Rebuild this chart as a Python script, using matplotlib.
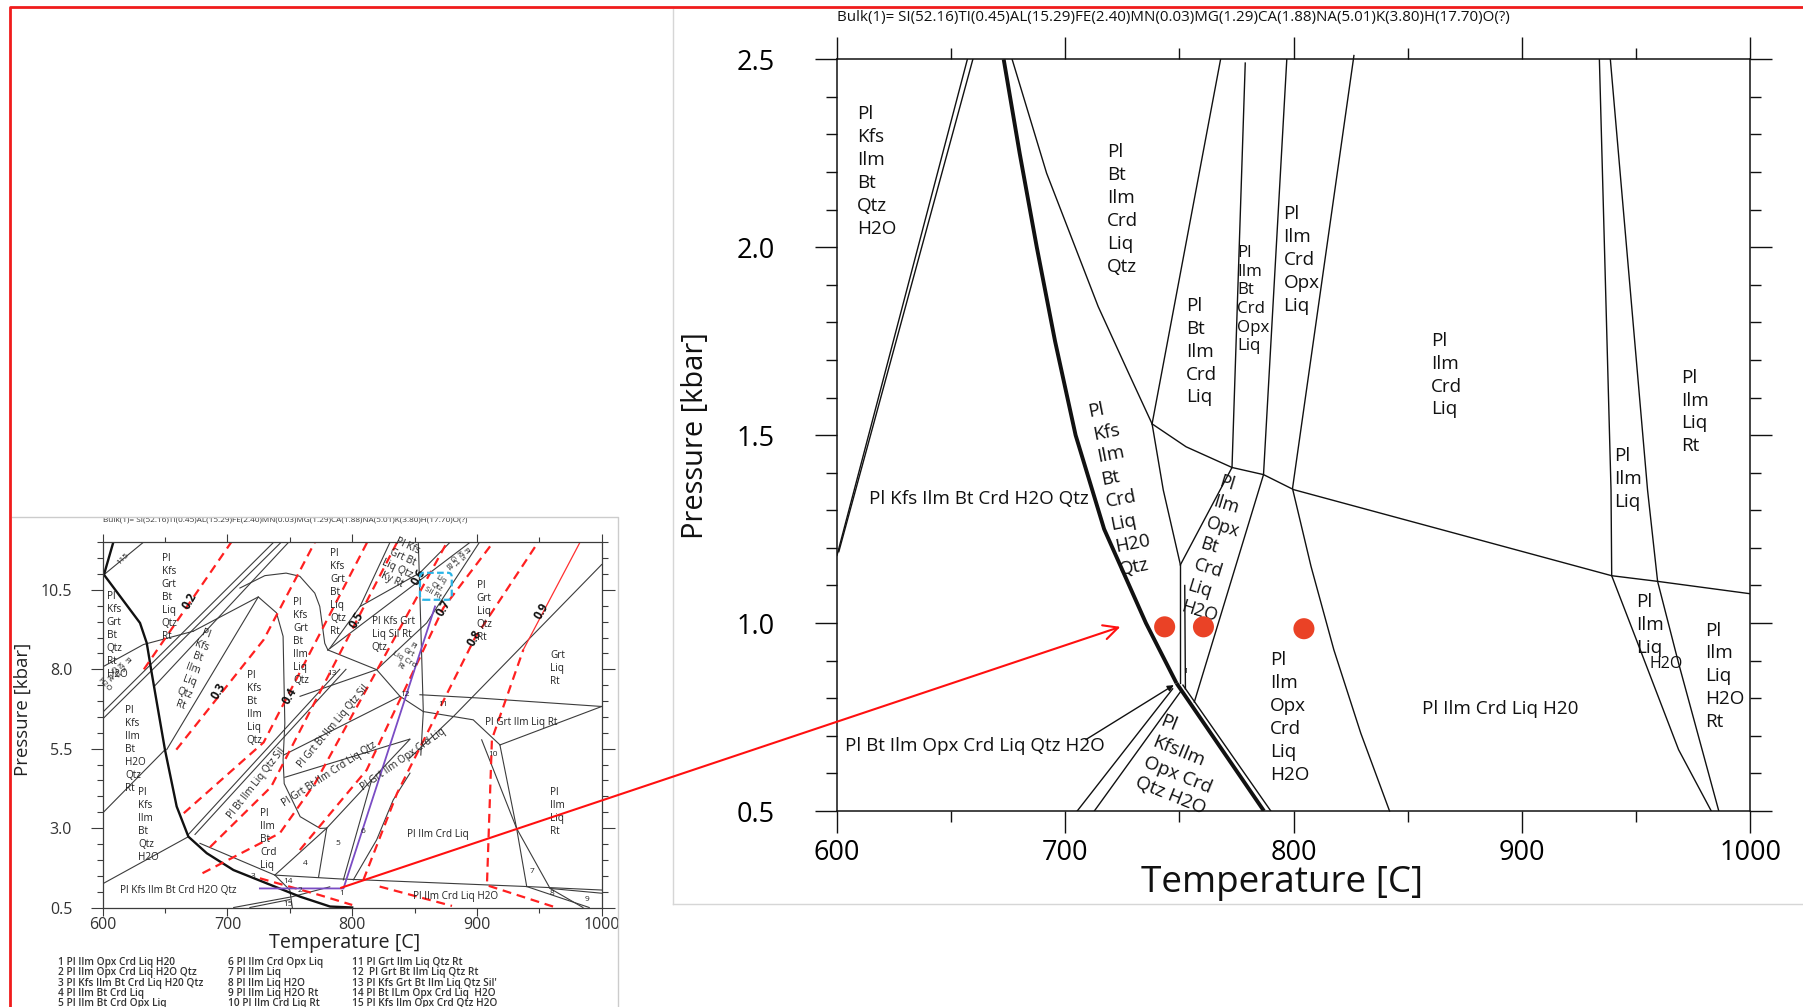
import matplotlib
matplotlib.use("Agg")
import matplotlib.pyplot as plt
from matplotlib import font_manager
from matplotlib.patches import ConnectionPatch, FancyBboxPatch
from matplotlib.lines import Line2D
from matplotlib.ticker import MultipleLocator, FixedLocator, FormatStrFormatter

plt.rcParams['font.family'] = ['Open Sans', 'DejaVu Sans']

def narrow_family():
    for name in ['Liberation Sans Narrow']:
        try:
            font_manager.findfont(font_manager.FontProperties(family=name), fallback_to_default=False)
            return [name, 'DejaVu Sans']
        except Exception:
            pass
    return ['Open Sans', 'DejaVu Sans']

NARROW = narrow_family()

BULK = "Bulk(1)= SI(52.16)TI(0.45)AL(15.29)FE(2.40)MN(0.03)MG(1.29)CA(1.88)NA(5.01)K(3.80)H(17.70)O(?)"

# ------------------------------------------------------------------ main panel data
main_xticks = [600, 700, 800, 900, 1000]
main_yticks = [0.5, 1.0, 1.5, 2.0, 2.5]

m_left1_T = [657.1, 600.0];            m_left1_P = [2.5, 1.18]
m_left2_T = [659.5, 600.8];            m_left2_P = [2.5, 1.19]
m_sol_up_T = [673.0, 680.0, 687.5, 695.5, 704.5, 717.0, 735.3, 748.7]
m_sol_up_P = [2.5, 2.25, 2.0, 1.75, 1.5, 1.25, 1.0, 0.84]
m_sol_lo_T = [748.7, 787.0];           m_sol_lo_P = [0.84, 0.5]
m_sol_lo2_T = [751.5, 790.0];          m_sol_lo2_P = [0.835, 0.5]
m_curve_T = [676.7, 691.8, 714.4, 727.8, 738.0]
m_curve_P = [2.5, 2.197, 1.842, 1.664, 1.53]
m_d_T = [768.0, 738.0, 742.9, 750.4];  m_d_P = [2.5, 1.53, 1.354, 1.155]
m_e_T = [738.0, 752.9, 773.0, 786.8, 800.0, 870.0, 939.3, 959.4, 1000.0]
m_e_P = [1.53, 1.469, 1.414, 1.395, 1.355, 1.24, 1.126, 1.111, 1.078]
m_f_T = [778.8, 773.0];                m_f_P = [2.49, 1.414]
m_g_T = [797.0, 786.8, 756.5];         m_g_P = [2.5, 1.395, 0.79]
m_h_T = [773.0, 750.4];                m_h_P = [1.414, 1.155]
m_v1_T = [750.4, 750.4];               m_v1_P = [1.155, 0.84]
m_v2_T = [752.3, 752.6];               m_v2_P = [1.10, 0.825]
m_i_T = [826.4, 799.5, 807.6, 817.6, 829.4, 842.0]
m_i_P = [2.51, 1.358, 1.151, 0.929, 0.707, 0.5]
m_j_T = [933.9, 939.0, 939.3, 951.8, 968.6, 982.9]
m_j_P = [2.5, 1.354, 1.126, 0.929, 0.663, 0.5]
m_k_T = [938.7, 955.0, 959.4, 968.6, 986.2]
m_k_P = [2.5, 1.354, 1.111, 0.893, 0.5]
m_l_T = [705.2, 747.0];                m_l_P = [0.5, 0.825]
m_m_T = [712.7, 750.5];                m_m_P = [0.5, 0.818]
m_leader_T = [709.0, 747.5];           m_leader_P = [0.69, 0.835]

dots_T = [743.5, 760.5, 804.5]
dots_P = [0.99, 0.99, 0.985]

m_lab_text = ["Pl\nKfs\nIlm\nBt\nQtz\nH2O", "Pl\nBt\nIlm\nCrd\nLiq\nQtz", "Pl\nBt\nIlm\nCrd\nLiq",
              "Pl\nIlm\nCrd\nOpx\nLiq", "Pl\nIlm\nCrd\nLiq", "Pl\nIlm\nLiq\nRt", "Pl\nIlm\nLiq",
              "Pl\nIlm\nOpx\nCrd\nLiq\nH2O", "Pl\nIlm\nLiq\nH2O\nRt", "Pl\nIlm\nLiq"]
m_lab_T = [608.9, 718.3, 752.9, 795.6, 860.3, 969.6, 940.2, 789.6, 980.4, 949.8]
m_lab_P = [2.378, 2.276, 1.868, 2.112, 1.775, 1.677, 1.469, 0.925, 1.004, 1.08]

m_small_text = "Pl\nIlm\nBt\nCrd\nOpx\nLiq"
m_small_T, m_small_P = 775.3, 2.006

m_rot_text = ["Pl\nKfs\nIlm\nBt\nCrd\nLiq\nH20\nQtz", "Pl\nIlm\nOpx\nBt\nCrd\nLiq\nH2O",
              "Pl\nKfsIlm\nOpx Crd\nQtz H2O"]
m_rot_T = [724.5, 767.0, 751.5]
m_rot_P = [1.36, 1.197, 0.622]
m_rot_ang = [11, -17, -22]

m_line_text = ["Pl Kfs Ilm Bt Crd H2O Qtz", "Pl Bt Ilm Opx Crd Liq Qtz H2O", "Pl Ilm Crd Liq H20"]
m_line_T = [613.8, 603.5, 856.2]
m_line_P = [1.329, 0.673, 0.771]

# ------------------------------------------------------------------ inset data
in_xticks = [600, 700, 800, 900, 1000]
in_yticks = [0.5, 3.0, 5.5, 8.0, 10.5]

i_sol_T = [608.5, 601.0, 629.9, 635.3, 639.3, 649.9, 659.3, 668.7, 683.4, 704.8, 731.5, 758.3, 782.3, 800.0]
i_sol_P = [12.0, 10.98, 9.46, 8.83, 7.88, 5.47, 3.68, 2.73, 2.21, 1.68, 1.26, 0.84, 0.53, 0.5]

i_lines = [
    ([601.0, 632.6], [10.98, 12.0]),
    ([600.6, 632.6, 672.6], [8.09, 8.78, 9.2]),
    ([600.6, 737.0], [6.67, 12.0]),
    ([600.6, 743.0], [6.46, 12.0]),
    ([641.0, 749.0], [7.45, 12.0]),
    ([710.0, 730.0, 747.0, 758.0, 770.0, 774.0, 778.0, 780.5], [10.56, 10.95, 11.03, 10.93, 10.4, 9.98, 8.82, 8.61]),
    ([651.3, 724.7, 739.3, 744.6, 746.0, 744.6, 745.5, 758.3, 774.3, 779.6], [5.47, 10.28, 9.78, 9.04, 6.3, 5.15, 4.4, 3.36, 2.99, 3.0]),
    ([672.6, 724.7], [9.2, 10.28]),
    ([600.6, 650.0], [3.5, 5.47]),
    ([600.6, 668.7], [1.26, 2.73]),
    ([668.7, 790.0], [2.8, 8.0]),
    ([674.0, 795.0], [2.8, 8.0]),
    ([678.0, 738.0, 790.0, 940.0, 1000.0], [2.52, 1.52, 1.4, 1.16, 1.05]),
    ([738.0, 779.6, 815.6, 846.3], [1.52, 3.0, 4.52, 5.8]),
    ([779.6, 773.0], [3.0, 1.45]),
    ([815.6, 792.9], [4.52, 1.37]),
    ([846.3, 832.9, 819.6, 800.9], [4.73, 3.89, 2.63, 1.37]),
    ([903.8, 931.8, 958.6, 985.0], [5.78, 2.99, 1.1, 0.5]),
    ([918.5, 931.8, 939.9], [5.6, 2.99, 1.16]),
    ([939.9, 990.0], [1.16, 0.5]),
    ([958.6, 1000.0], [1.1, 0.95]),
    ([854.3, 900.0, 1000.0], [7.2, 7.1, 6.83]),
    ([857.0, 897.0, 918.5], [6.67, 6.41, 5.62]),
    ([918.5, 1000.0], [5.62, 6.83]),
    ([780.5, 894.5], [8.61, 12.0]),
    ([902.0, 859.7, 819.6], [12.0, 9.46, 7.99]),
    ([1000.0, 881.0, 846.0], [11.3, 6.51, 5.2]),
    ([853.0, 857.0, 855.0], [12.0, 6.67, 5.3]),
    ([830.3, 806.3, 782.2], [12.0, 9.98, 8.67]),
    ([806.3, 854.3, 878.4], [9.98, 11.04, 12.0]),
    ([780.5, 819.6, 838.3, 857.0], [8.61, 7.99, 7.15, 6.67]),
    ([758.2, 819.6], [7.15, 7.99]),
    ([745.0, 838.3], [5.3, 7.15]),
    ([746.0, 846.0], [4.6, 5.8]),
    ([705.0, 752.0, 782.0], [0.5, 0.84, 1.15]),
    ([738.0, 750.0, 752.0], [1.52, 1.05, 0.5]),
    ([718.0, 750.0], [0.5, 0.75]),
]

i_iso = [
    ([633.0, 703.0], [8.0, 12.0]),
    ([659.0, 729.0, 770.0], [5.47, 8.93, 12.0]),
    ([665.0, 729.0, 812.0], [3.47, 5.7, 12.0]),
    ([686.0, 735.0, 836.0], [2.4, 4.3, 12.0]),
    ([680.0, 742.0, 770.0, 876.0], [1.58, 2.84, 4.4, 12.0]),
    ([758.0, 811.6, 873.0, 913.0], [2.31, 4.83, 9.93, 12.0]),
    ([809.0, 836.0, 898.4, 949.0], [1.37, 4.1, 8.99, 12.0]),
    ([961.0, 908.0, 912.0, 937.2], [0.53, 1.2, 5.8, 8.62]),
    ([726.0, 774.0, 800.0], [1.42, 0.89, 0.58]),
    ([822.0, 880.0], [1.16, 0.55]),
]
i_iso_solid_T = [937.2, 982.6]
i_iso_solid_P = [8.62, 12.0]

i_iso_lab = ["0.2", "0.3", "0.4", "0.5", "0.6", "0.7", "0.8", "0.9"]
i_iso_lab_T = [670.0, 692.7, 750.0, 803.5, 853.0, 873.0, 898.4, 951.9]
i_iso_lab_P = [10.14, 7.3, 7.15, 9.56, 10.9, 9.93, 8.99, 9.83]

purple_T = [726.0, 793.0, 866.4]
purple_P = [1.1, 1.1, 9.98]

box_T = [854.3, 879.8]
box_P = [10.19, 11.04]

i_lab_text = ["Pl\nKfs\nGrt\nBt\nLiq\nQtz\nRt", "Pl\nKfs\nGrt\nBt\nQtz\nRt\nH2O",
              "Pl\nKfs\nIlm\nBt\nH2O\nQtz\nRt", "Pl\nKfs\nBt\nIlm\nLiq\nQtz",
              "Pl\nKfs\nGrt\nBt\nIlm\nLiq\nQtz", "Pl\nKfs\nIlm\nBt\nQtz\nH2O", "Pl\nIlm\nBt\nCrd\nLiq",
              "Pl\nIlm\nLiq\nRt", "Pl\nKfs\nGrt\nBt\nLiq\nQtz\nRt", "Pl Kfs Grt\nLiq Sil Rt\nQtz",
              "Pl\nGrt\nLiq\nQtz\nRt", "Grt\nLiq\nRt"]
i_lab_T = [647.3, 603.2, 617.9, 715.4, 752.8, 628.5, 726.1, 958.6, 782.2, 815.6, 899.8, 958.6]
i_lab_P = [11.67, 10.46, 6.88, 7.99, 10.28, 4.31, 3.63, 4.31, 11.82, 9.67, 10.82, 8.62]

i_line_text = ["Pl Kfs Ilm Bt Crd H2O Qtz", "Pl Ilm Crd Liq", "Pl Ilm Crd Liq H2O", "Pl Grt Ilm Liq Rt"]
i_line_T = [614.0, 843.7, 849.0, 906.5]
i_line_P = [1.03, 2.79, 0.84, 6.31]

i_rot_text = ["Pl\nKfs\nQtz\nRt\nH2O", "Pl\nKfs\nBt\nIlm\nLiq\nQtz\nRt", "Pl Grt Bt Ilm Crd Liq Qtz",
              "Pl Grt Ilm Opx Crd Liq", "Pl Bt Ilm Liq Qtz Sil", "Pl Grt Bt Ilm Liq Qtz Sil",
              "Pl Kfs\nGrt Bt\nLiq Qtz\nKy Rt", "Pl\nGrt\nLiq Crd\nRt", "Pl\nKfs\nGrt\nBt",
              "Liq\nQtz\nSil Rt", "115"]
i_rot_T = [609.9, 672.6, 782.0, 841.0, 723.4, 784.8, 838.3, 843.7, 883.8, 867.7, 616.5]
i_rot_P = [7.88, 7.99, 4.68, 5.15, 4.42, 6.2, 11.35, 8.41, 11.46, 10.6, 11.46]
i_rot_ang = [-45, -20, 33, 35, 52, 50, -25, -30, -50, -30, 45]

i_num_text = ["1", "2", "3", "4", "5", "6", "7", "8", "9", "10", "11", "12", "13", "14", "15"]
i_num_T = [791.6, 758.2, 720.7, 762.2, 788.1, 808.9, 943.9, 960.0, 988.0, 913.1, 873.0, 842.3, 783.6, 748.9, 748.8]
i_num_P = [0.93, 1.05, 1.47, 1.89, 2.5, 2.89, 1.63, 0.93, 0.76, 5.31, 6.88, 7.2, 7.88, 1.31, 0.58]

legend_col1 = ["1 Pl Ilm Opx Crd Liq H20", "2 Pl Ilm Opx Crd Liq H2O Qtz", "3 Pl Kfs Ilm Bt Crd Liq H20 Qtz",
               "4 Pl Ilm Bt Crd Liq", "5 Pl Ilm Bt Crd Opx Liq"]
legend_col2 = ["6 Pl Ilm Crd Opx Liq", "7 Pl Ilm Liq", "8 Pl Ilm Liq H2O", "9 Pl Ilm Liq H2O Rt",
               "10 Pl Ilm Crd Liq Rt"]
legend_col3 = ["11 Pl Grt Ilm Liq Qtz Rt", "12  Pl Grt Bt Ilm Liq Qtz Rt", "13 Pl Kfs Grt Bt Ilm Liq Qtz Sil'",
               "14 Pl Bt ILm Opx Crd Liq  H2O", "15 Pl Kfs Ilm Opx Crd Qtz H2O"]

arrow_from = (791.0, 1.12)   # inset data
arrow_to = (724.1, 0.99)     # main data

# ------------------------------------------------------------------ figure
W, H = 1803, 1007
fig = plt.figure(figsize=(W / 100, H / 100), dpi=100)
fig.patch.set_facecolor('white')

def fit(t, target, vertical=False):
    r = fig.canvas.get_renderer()
    for _ in range(3):
        bb = t.get_window_extent(renderer=r)
        cur = bb.height if vertical else bb.width
        if cur > 0:
            t.set_fontsize(t.get_fontsize() * target / cur)

# frames
fig.add_artist(Line2D([673 / W, 673 / W], [1 - 9 / H, 1 - 904 / H], color='#d6d6d6', lw=1.0))
fig.add_artist(Line2D([673 / W, 1.0], [1 - 904 / H, 1 - 904 / H], color='#d6d6d6', lw=1.0))
fig.add_artist(Line2D([11.5 / W, 617.5 / W, 617.5 / W], [1 - 517 / H, 1 - 517 / H, 0], color='#cccccc', lw=1.0))
fig.add_artist(Line2D([10 / W, 10 / W, 1.0], [0, 1 - 7 / H, 1 - 7 / H], color='#f01c1c', lw=2.0))

BLK = '#111111'

# ---------------- main axes
ax = fig.add_axes([837 / W, 1 - 811 / H, 913.3 / W, 751.7 / H])
ax.set_xlim(600, 1000)
ax.set_ylim(0.5, 2.5)
ax.xaxis.set_major_locator(FixedLocator(main_xticks))
ax.yaxis.set_major_locator(FixedLocator(main_yticks))
ax.xaxis.set_minor_locator(MultipleLocator(50))
ax.yaxis.set_minor_locator(MultipleLocator(0.1))
ax.yaxis.set_major_formatter(FormatStrFormatter('%.1f'))
ax.tick_params(which='both', direction='out', top=True, right=True, width=1.0, color=BLK)
ax.tick_params(which='major', length=16, labelsize=19.5)
ax.tick_params(which='minor', length=8)
ax.tick_params(axis='x', which='major', pad=4)
ax.tick_params(axis='y', which='major', pad=29)
for s in ax.spines.values():
    s.set_linewidth(1.1)
    s.set_color(BLK)

thin_main = [(m_left1_T, m_left1_P), (m_left2_T, m_left2_P), (m_curve_T, m_curve_P), (m_d_T, m_d_P),
             (m_e_T, m_e_P), (m_f_T, m_f_P), (m_g_T, m_g_P), (m_h_T, m_h_P), (m_v1_T, m_v1_P),
             (m_v2_T, m_v2_P), (m_j_T, m_j_P), (m_k_T, m_k_P), (m_l_T, m_l_P), (m_m_T, m_m_P),
             (m_sol_lo2_T, m_sol_lo2_P)]
for T, P in thin_main:
    ax.plot(T, P, color=BLK, lw=1.0)
ax.plot(m_i_T, m_i_P, color=BLK, lw=1.0, clip_on=False)
ax.plot(m_sol_up_T, m_sol_up_P, color=BLK, lw=2.8, solid_capstyle='butt')
ax.plot(m_sol_lo_T, m_sol_lo_P, color=BLK, lw=2.8, solid_capstyle='butt')
ax.annotate('', xy=(m_leader_T[1], m_leader_P[1]), xytext=(m_leader_T[0], m_leader_P[0]),
            arrowprops=dict(arrowstyle='-|>', color=BLK, lw=1.0, mutation_scale=9, shrinkA=0, shrinkB=0))
ax.scatter(dots_T, dots_P, s=230, color='#ea4226', zorder=6, edgecolors='none')

LFS = 13.6
LS = 1.35
for t, T, P in zip(m_lab_text, m_lab_T, m_lab_P):
    ax.text(T, P, t, fontsize=LFS, ha='left', va='top', linespacing=LS, color=BLK)
ax.text(m_small_T, m_small_P, m_small_text, fontsize=12.2, ha='left', va='top', linespacing=1.22, color=BLK)
for i, (t, T, P, a) in enumerate(zip(m_rot_text, m_rot_T, m_rot_P, m_rot_ang)):
    fs = LFS if i != 1 else 12.8
    ax.text(T, P, t, fontsize=fs, ha='center', va='center', rotation=a, rotation_mode='anchor',
            multialignment='left', linespacing=LS if i == 0 else 1.28, color=BLK)
for t, T, P in zip(m_line_text, m_line_T, m_line_P):
    ax.text(T, P, t, fontsize=LFS, ha='left', va='center', color=BLK)
ax.text(956.0, 0.892, "H2O", fontsize=11.5, ha='left', va='center', color=BLK)
ax.text(752.9, 0.872, "1", fontsize=6, ha='center', va='center', color=BLK)

t_main_title = ax.text(0.0, 1.056, BULK, transform=ax.transAxes, ha='left', va='center', fontsize=10,
                       color=BLK, family=NARROW)
fit(t_main_title, 672)
t_xl = ax.text(0.4875, -0.096, "Temperature [C]", transform=ax.transAxes, ha='center', va='center', fontsize=26, color=BLK)
fit(t_xl, 282)
t_yl = ax.text(-0.1545, 0.5, "Pressure [kbar]", transform=ax.transAxes, ha='center', va='center',
               rotation=90, fontsize=22, color=BLK)
fit(t_yl, 207, vertical=True)

# ---------------- inset axes
GR = '#3c3c3c'
axi = fig.add_axes([102.7 / W, 1 - 907.5 / H, 499 / W, 365.2 / H])
axi.set_xlim(600, 1000)
axi.set_ylim(0.5, 12.0)
axi.xaxis.set_major_locator(FixedLocator(in_xticks))
axi.yaxis.set_major_locator(FixedLocator(in_yticks))
axi.xaxis.set_minor_locator(MultipleLocator(50))
axi.yaxis.set_minor_locator(MultipleLocator(0.5))
axi.yaxis.set_major_formatter(FormatStrFormatter('%.1f'))
axi.tick_params(which='both', direction='out', top=True, right=True, width=0.8, color=GR, labelcolor='#333333')
axi.tick_params(which='major', length=9, labelsize=11.5)
axi.tick_params(which='minor', length=4.5)
axi.tick_params(axis='x', which='major', length=6, pad=1)
axi.tick_params(axis='x', which='minor', length=3.5)
axi.tick_params(axis='y', which='major', pad=13)
for s in axi.spines.values():
    s.set_linewidth(0.9)
    s.set_color(GR)

for T, P in i_lines:
    axi.plot(T, P, color=GR, lw=0.8)
axi.plot(i_sol_T, i_sol_P, color=BLK, lw=1.7)
for T, P in i_iso:
    axi.plot(T, P, color='#ff2020', lw=1.6, dashes=(4, 2.6))
axi.plot(i_iso_solid_T, i_iso_solid_P, color='#ff3030', lw=0.9)
axi.plot(purple_T, purple_P, color='#7a4cc4', lw=1.3)
axi.add_patch(FancyBboxPatch((box_T[0], box_P[0]), box_T[1] - box_T[0], box_P[1] - box_P[0],
                             boxstyle='round,pad=0,rounding_size=3', mutation_aspect=0.045,
                             fill=False, ec='#29b4e6', lw=1.6, ls=(0, (3, 1.5)), zorder=5))
for t, T, P in zip(i_iso_lab, i_iso_lab_T, i_iso_lab_P):
    axi.text(T, P, t, fontsize=8.5, fontweight='bold', rotation=60, ha='center', va='center',
             rotation_mode='anchor', color=BLK)

IFS = 7.2
for t, T, P in zip(i_lab_text, i_lab_T, i_lab_P):
    axi.text(T, P, t, fontsize=IFS, ha='left', va='top', linespacing=1.25, color='#222222')
for t, T, P in zip(i_line_text, i_line_T, i_line_P):
    axi.text(T, P, t, fontsize=IFS, ha='left', va='center', color='#222222')
for t, T, P, a in zip(i_rot_text, i_rot_T, i_rot_P, i_rot_ang):
    small = ('\n' in t and len(t) < 20) or t == "115"
    axi.text(T, P, t, fontsize=5.8 if small else IFS, ha='center', va='center',
             rotation=a, rotation_mode='anchor', linespacing=1.2, color='#222222')
for t, T, P in zip(i_num_text, i_num_T, i_num_P):
    axi.text(T, P, t, fontsize=6, ha='center', va='center', color='#222222')

t_it = axi.text(0.0, 1.061, BULK, transform=axi.transAxes, ha='left', va='center', fontsize=5,
                color='#333333', family=NARROW)
fit(t_it, 365)
t_ixl = axi.text(0.4856, -0.097, "Temperature [C]", transform=axi.transAxes, ha='center', va='center',
                 fontsize=14, color='#222222')
fit(t_ixl, 152)
t_iyl = axi.text(-0.16, 0.542, "Pressure [kbar]", transform=axi.transAxes, ha='center', va='center',
                 rotation=90, fontsize=13, color='#222222')
fit(t_iyl, 133, vertical=True)

# legend below inset
col_x = [57.5, 227.7, 351.9]
row_y = [962.6, 972.9, 983.3, 993.6, 1003.4]
probe = fig.text(col_x[0] / W, 1 - row_y[0] / H, legend_col1[0], fontsize=7, ha='left', va='center',
                 color='#333333', fontweight='semibold')
fit(probe, 117)
lfs = probe.get_fontsize()
probe.remove()
for cx, col in zip(col_x, [legend_col1, legend_col2, legend_col3]):
    for ry, t in zip(row_y, col):
        fig.text(cx / W, 1 - ry / H, t, fontsize=lfs, ha='left', va='center', color='#333333',
                 fontweight='semibold')

# red arrow inset -> main
con = ConnectionPatch(xyA=arrow_from, coordsA=axi.transData, xyB=arrow_to, coordsB=ax.transData,
                      arrowstyle='->', color='#ff1010', lw=1.5, mutation_scale=26, shrinkA=0, shrinkB=0, zorder=20)
fig.add_artist(con)

fig.savefig('out.png', dpi=100, facecolor='white')
